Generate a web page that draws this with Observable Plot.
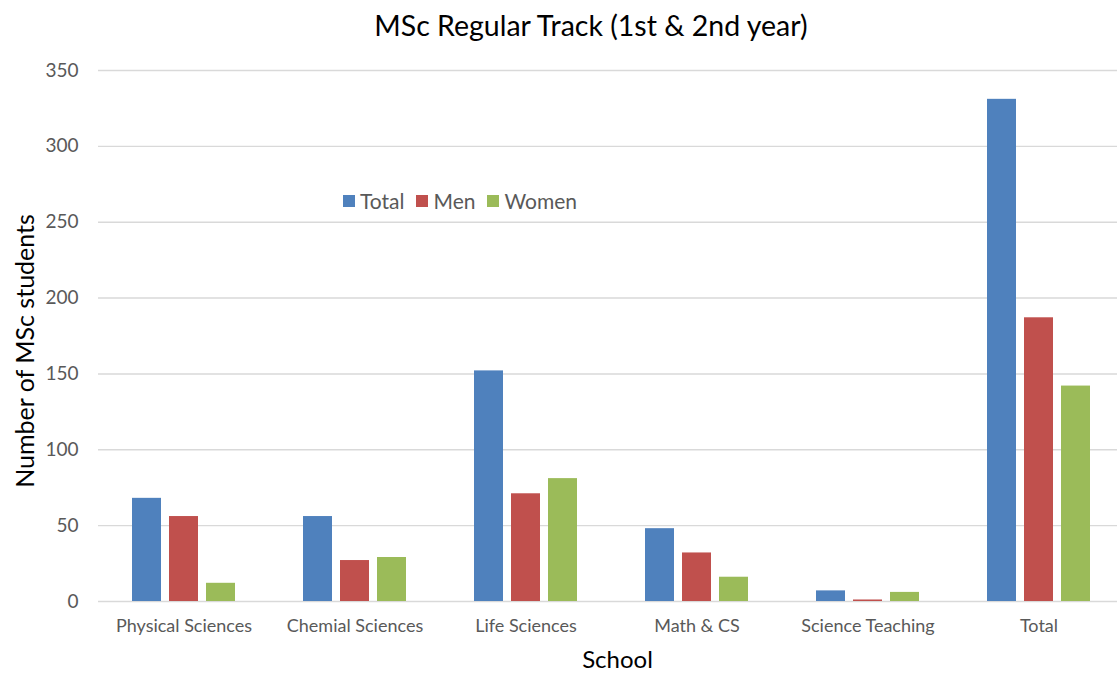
<!DOCTYPE html>
<html>
<head>
<meta charset="utf-8">
<script src="https://cdn.jsdelivr.net/npm/d3@7"></script>
<script src="https://cdn.jsdelivr.net/npm/@observablehq/plot@0.6"></script>
<style>
  html, body { margin: 0; padding: 0; background: #fff; }
  body { width: 1117px; height: 674px; overflow: hidden; position: relative; font-family: Lato, "Liberation Sans", sans-serif; }
  #title { position: absolute; left: 0; top: 8px; width: 1182px; text-align: center; font-size: 28.5px; color: #000; }
  #chart { position: absolute; left: 0; top: 50px; }
  #chart svg { max-width: none !important; }
  #legend { position: absolute; left: 343px; top: 188px; display: flex; font-size: 21px; color: #595959; white-space: nowrap; }
  #legend span.item { display: inline-flex; align-items: center; margin-right: 12px; }
  #legend span.sw { display: inline-block; width: 12px; height: 12px; margin-right: 5px; }
</style>
</head>
<body>
<div id="title">MSc Regular Track (1st &amp; 2nd year)</div>
<div id="chart"></div>
<div id="legend"></div>
<script>
const schools = ["Physical Sciences", "Chemial Sciences", "Life Sciences", "Math & CS", "Science Teaching", "Total"];
const series = ["Total", "Men", "Women"];
const totalValues = [68, 56, 152, 48, 7, 331];
const menValues = [56, 27, 71, 32, 1, 187];
const womenValues = [12, 29, 81, 16, 6, 142];
const colors = ["#4F81BD", "#C0504D", "#9BBB59"];
const yTicks = [0, 50, 100, 150, 200, 250, 300, 350];

const valuesBySeries = [totalValues, menValues, womenValues];
const data = [];
schools.forEach((s, i) => {
  series.forEach((k, j) => data.push({school: s, series: k, value: valuesBySeries[j][i]}));
});

const chart = Plot.plot({
  width: 1126,
  height: 624,
  marginLeft: 96,
  marginRight: 0,
  marginTop: 20,
  marginBottom: 73,
  style: {fontFamily: "Lato, 'Liberation Sans', sans-serif", fontSize: "16px", color: "#595959", background: "#fff", maxWidth: "none"},
  fx: {domain: schools, padding: 0, paddingOuter: 0, label: null},
  x: {domain: series, paddingInner: 0.21, paddingOuter: 0.863, axis: null},
  y: {domain: [0, 350], ticks: yTicks, label: null},
  color: {domain: series, range: colors},
  marks: [
    Plot.gridY(yTicks, {stroke: "#d9d9d9", strokeOpacity: 1, strokeWidth: 1.4}),
    Plot.axisY(yTicks, {tickSize: 0, tickPadding: 20, fontSize: 19, fill: "#595959", label: null}),
    Plot.axisFx({anchor: "bottom", tickSize: 0, tickPadding: 18, fontSize: 18, fill: "#595959", label: null}),
    Plot.barY(data, {fx: "school", x: "series", y: "value", fill: "series"}),
    Plot.text(["Number of MSc students"], {frameAnchor: "left", textAnchor: "middle", dx: -73, dy: 15, rotate: -90, fontSize: 25, fill: "#000", facet: "super"}),
    Plot.text(["School"], {frameAnchor: "bottom", dy: 66, dx: 6, fontSize: 24, fill: "#000", facet: "super"})
  ]
});
document.getElementById("chart").appendChild(chart);

const legend = document.getElementById("legend");
series.forEach((k, j) => {
  const item = document.createElement("span");
  item.className = "item";
  const sw = document.createElement("span");
  sw.className = "sw";
  sw.style.background = colors[j];
  item.appendChild(sw);
  item.appendChild(document.createTextNode(k));
  legend.appendChild(item);
});
</script>
</body>
</html>
